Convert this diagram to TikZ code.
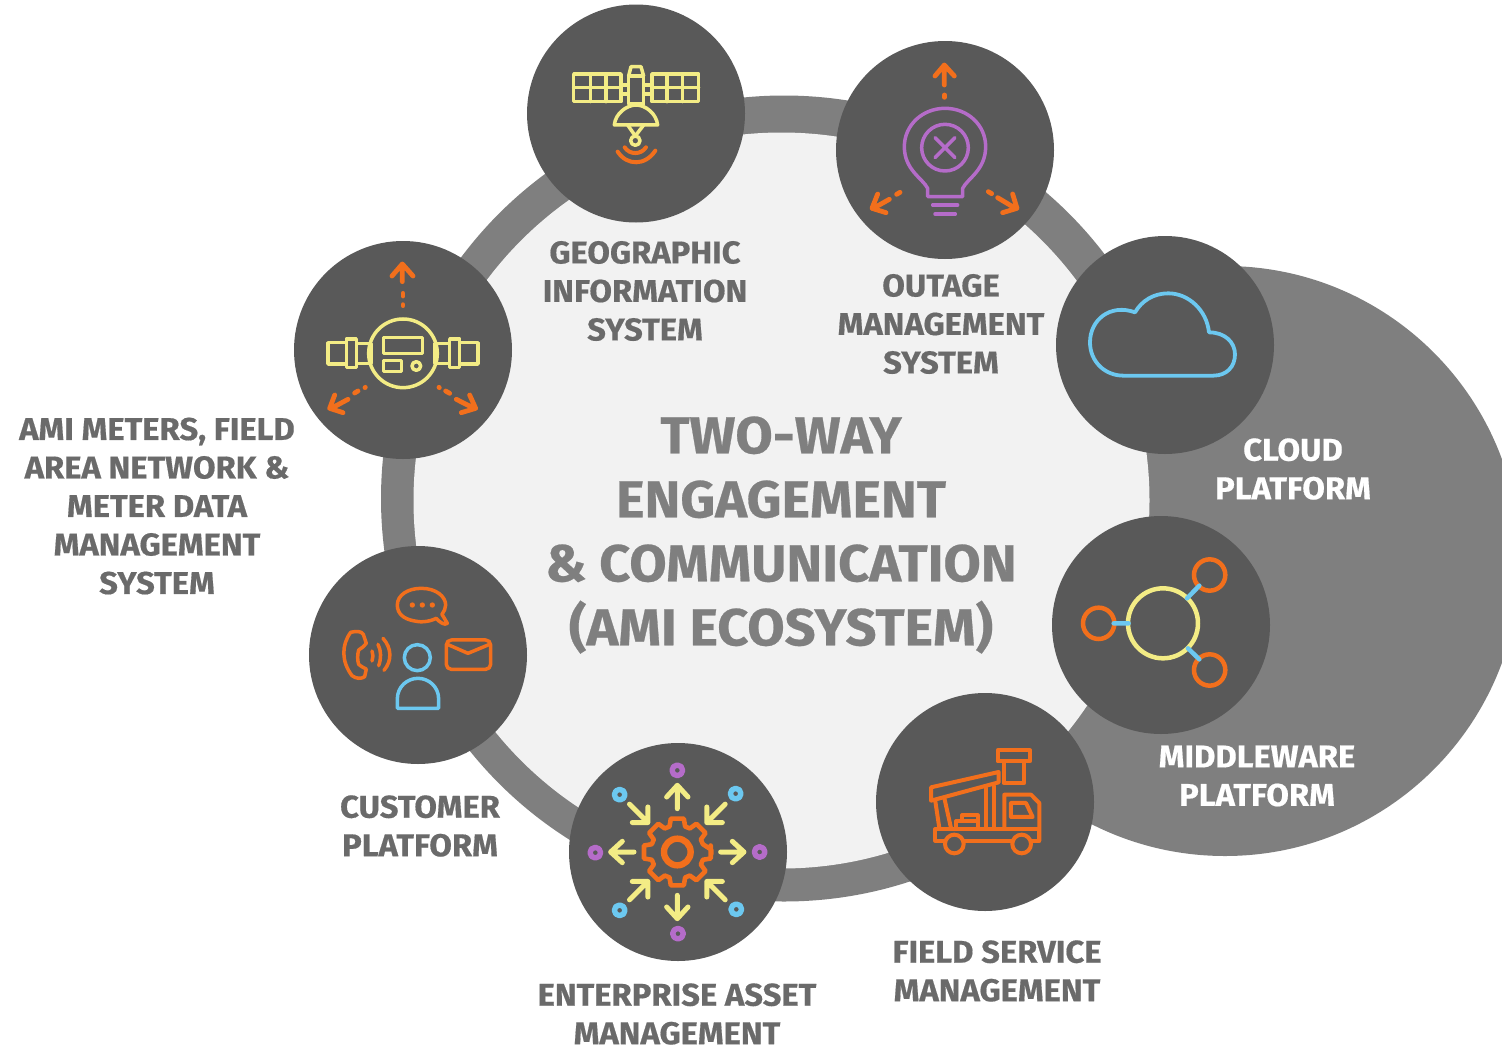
\documentclass[tikz,border=0pt]{standalone}
\usepackage{fontspec}
\setmainfont{Fira Sans}[BoldFont={Fira Sans Bold},BoldFeatures={FakeBold=0.5,FakeStretch=1.04}]
\definecolor{ringgray}{HTML}{7F7F7F}
\definecolor{disc}{HTML}{F2F2F2}
\definecolor{dark}{HTML}{595959}
\definecolor{labelgray}{HTML}{6A6A6A}
\definecolor{ylw}{HTML}{F3EC85}
\definecolor{org}{HTML}{F26F1C}
\definecolor{prp}{HTML}{B56CC9}
\definecolor{blu}{HTML}{6CC8F0}
\tikzset{
  hub/.style={circle,fill=dark,draw=none,minimum size=218pt,inner sep=0pt},
  lab/.style={align=center,text=labelgray,font=\fontsize{31.5}{38.5}\selectfont\bfseries,inner sep=0pt},
  wlab/.style={lab,text=white},
  mid/.style={align=center,text=ringgray,font=\fontsize{52}{64}\selectfont\bfseries,inner sep=0pt},
  ico/.style={line width=3.5pt,line join=round,line cap=round},
  iconbox/.style={x=0.3333pt,y=-0.3333pt}
}
\begin{document}
\begin{tikzpicture}[x=1pt,y=-1pt]
\useasboundingbox (0,0) rectangle (1502,1047);
\begin{scope}
\clip (0,0) rectangle (1502,1047);
\fill[ringgray] (1225,561) circle[radius=295];
\fill[ringgray] (784,498.5) circle[radius=403];
\fill[disc] (781.5,500.5) circle[radius=368];
\end{scope}
\node[hub] (gis) at (636,113.5) {};
\node[hub] (oms) at (945,150) {};
\node[hub] (cloud) at (1165,345) {};
\node[hub] (mw) at (1161,625) {};
\node[hub] (fsm) at (985,802) {};
\node[hub] (eam) at (678,852) {};
\node[hub] (cust) at (418,655) {};
\node[hub] (ami) at (403,350) {};

% satellite
\begin{scope}[shift={(527,0)},iconbox,ico,ylw]
\draw (140,222) rectangle (282,305);
\draw (190,222)--(190,305) (237,222)--(237,305) (140,263)--(282,263);
\draw (375,222) rectangle (515,305);
\draw (420,222)--(420,305) (467,222)--(467,305) (375,263)--(515,263);
\draw (305,228) rectangle (350,312);
\draw (305,228)--(312,200)--(342,200)--(350,228);
\draw (282,255) rectangle (305,282) (350,255) rectangle (375,282);
\draw (262,375) .. controls (265,340) and (300,315) .. (327,315) .. controls (355,315) and (388,340) .. (392,375) -- cycle;
\draw (302,375)--(325,408)--(350,375);
\draw (325,422) circle[radius=14];
\draw[org,line width=4pt] (293,442) .. controls (308,465) and (342,465) .. (357,442);
\draw[org,line width=4pt] (272,455) .. controls (300,498) and (355,498) .. (385,452);
\end{scope}

% bulb
\begin{scope}[shift={(836,40)},iconbox,ico]
\begin{scope}[prp]
\draw (275,470) -- (275,445) .. controls (260,415) and (205,390) .. (205,320) .. controls (205,255) and (260,205) .. (327,205) .. controls (395,205) and (449,255) .. (449,320) .. controls (449,390) and (395,415) .. (380,445) -- (380,470) -- cycle;
\draw (327,323) circle[radius=70];
\draw (297,293)--(357,353) (357,293)--(297,353);
\draw (290,495)--(365,495) (297,522)--(358,522);
\end{scope}
\begin{scope}[org,line width=4.8pt]
\draw (325,80)--(325,135) (297,108)--(325,75)--(355,108);
\draw (325,165)--(325,172);
\draw (192,457)--(182,463) (160,478)--(112,505) (125,462)--(108,505)--(150,518);
\draw (457,455)--(467,461) (485,473)--(538,505) (530,462)--(543,505)--(500,518);
\end{scope}
\end{scope}

% meter
\begin{scope}[shift={(293,240)},iconbox,ico]
\begin{scope}[ylw]
\draw (330,340) circle[radius=103];
\draw (272,292) rectangle (388,340) (272,362) rectangle (325,395);
\draw (370,378) circle[radius=13];
\draw (105,308) rectangle (160,372) (160,297) rectangle (190,383) (190,310) rectangle (235,370);
\draw (555,308) rectangle (500,372) (500,297) rectangle (470,383) (470,310) rectangle (425,370);
\end{scope}
\begin{scope}[org,line width=4.8pt]
\draw (328,80)--(328,125) (297,108)--(328,72)--(360,108);
\draw (330,160)--(330,168) (330,194)--(330,197);
\draw (217,442)--(216,443) (195,453)--(185,459) (165,478)--(115,505) (125,465)--(110,505)--(150,518);
\draw (438,442)--(439,443) (458,453)--(470,460) (490,478)--(543,505) (530,465)--(548,505)--(505,518);
\end{scope}
\end{scope}

% customer
\begin{scope}[shift={(308,545)},iconbox,ico]
\begin{scope}[org]
\draw (385,220) .. controls (360,232) and (335,232) .. (320,228) .. controls (285,222) and (268,205) .. (268,180) .. controls (268,150) and (300,130) .. (340,130) .. controls (385,130) and (413,155) .. (413,180) .. controls (413,190) and (408,200) .. (402,208) -- (418,235) .. controls (410,242) and (395,232) .. (385,220) -- cycle;
\fill (313,180) circle[radius=8] (343,180) circle[radius=8] (373,180) circle[radius=8];
\draw (128,262) .. controls (145,258) and (160,258) .. (166,268) -- (175,295) .. controls (170,305) and (160,308) .. (152,315) .. controls (148,330) and (148,345) .. (152,358) .. controls (160,365) and (170,370) .. (175,372) -- (170,395) .. controls (160,402) and (145,402) .. (132,392) .. controls (100,350) and (100,300) .. (128,262) -- cycle;
\draw (192,318) .. controls (196,328) and (196,338) .. (192,348);
\draw (210,298) .. controls (220,318) and (220,340) .. (212,362);
\draw (225,280) .. controls (252,310) and (252,348) .. (228,376);
\draw[rounded corners=5pt] (415,285) rectangle (548,373);
\draw (418,298)--(480,325)--(545,298);
\end{scope}
\begin{scope}[blu]
\draw (328,338) circle[radius=39];
\draw (268,490) -- (268,462) .. controls (268,425) and (298,400) .. (330,400) .. controls (362,400) and (392,425) .. (392,462) -- (392,490) -- cycle;
\end{scope}
\end{scope}

% gear and arrows
\begin{scope}[shift={(568,742)},iconbox,ico]
\begin{scope}[shift={(328,330)}]
\foreach \a in {0,90,180,270}{
 \begin{scope}[rotate=\a]
  \draw[ylw,line width=5pt] (130,0)--(200,0) (165,32)--(200,0)--(165,-32);
 \end{scope}
}
\foreach \a in {45,135,225,315}{
 \begin{scope}[rotate=\a]
  \draw[ylw,line width=5pt] (203,0)--(125,0) (158,33)--(125,0)--(158,-33);
 \end{scope}
}
\draw[org,line width=6.4pt] (0,0) circle[radius=40];
\draw[org,line width=4.6pt]
  (-4:102) -- (4:102)
  \foreach \a in {0,45,...,315}{
    -- ({\a-11}:102) -- ({\a+11}:102) -- ({\a+17}:80) -- ({\a+28}:80)
  } -- cycle;
\end{scope}
\foreach \x/\y in {328/85,82/332,575/330,330/575}{
  \draw[prp,line width=5.4pt] (\x,\y) circle[radius=16];
}
\foreach \x/\y in {155/158,503/155,155/505,505/502}{
  \draw[blu,line width=5.4pt] (\x,\y) circle[radius=16];
}
\end{scope}

% truck
\begin{scope}[shift={(876,693)},iconbox,ico,org,line width=4pt]
\draw (365,172) rectangle (462,205);
\draw (383,205)--(383,270)--(445,270)--(445,205);
\draw (165,283)--(368,237)--(368,268)--(165,323)--cycle;
\draw (330,285)--(330,405) (355,280)--(355,405);
\draw (178,325)--(190,405) (205,315)--(225,405);
\draw (178,408) rectangle (490,443);
\draw (385,405)--(385,305)--(465,305)--(490,330)--(490,443);
\draw (405,330)--(450,330)--(470,372)--(405,372)--cycle;
\draw (240,405)--(240,385)--(258,385)--(258,367)--(305,367)--(305,405) (258,385)--(305,385);
\filldraw[fill=dark] (235,453) circle[radius=28] (437,453) circle[radius=28];
\end{scope}

% middleware
\begin{scope}[shift={(1052,515)},iconbox,line cap=round]
\draw[ylw,line width=4.5pt] (333,325) circle[radius=105];
\draw[org,line width=4.5pt] (473,180) circle[radius=47] (140,325) circle[radius=47] (473,465) circle[radius=47];
\draw[blu,line width=4.5pt] (185,325)--(230,325) (405,250)--(442,212) (408,400)--(442,433);
\end{scope}

% cloud
\begin{scope}[shift={(1055,235)},iconbox,ico,blu,line width=3.8pt]
\draw (205,422) -- (475,422) .. controls (515,422) and (540,395) .. (540,358) .. controls (540,322) and (510,292) .. (462,292) .. controls (455,225) and (400,175) .. (340,175) .. controls (295,175) and (260,198) .. (240,232) .. controls (165,205) and (105,255) .. (105,322) .. controls (105,380) and (150,422) .. (205,422) -- cycle;
\end{scope}

\node[lab] (tgis) at (645,291) {GEOGRAPHIC\\INFORMATION\\SYSTEM};
\node[lab] (toms) at (941,324) {OUTAGE\\MANAGEMENT\\SYSTEM};
\node[wlab] (tcloud) at (1293,469) {CLOUD\\PLATFORM};
\node[wlab] (tmw) at (1257,776) {MIDDLEWARE\\PLATFORM};
\node[lab] (tfsm) at (997,971) {FIELD SERVICE\\MANAGEMENT};
\node[lab] (team) at (677,1014) {ENTERPRISE ASSET\\MANAGEMENT};
\node[lab] (tcust) at (420,826) {CUSTOMER\\PLATFORM};
\node[lab] (tami) at (157,506) {AMI METERS, FIELD\\AREA NETWORK \&\\METER DATA\\MANAGEMENT\\SYSTEM};
\node[mid] (tmid) at (781,535) {TWO-WAY\\ENGAGEMENT\\\& COMMUNICATION\\(AMI ECOSYSTEM)};
\end{tikzpicture}
\end{document}
